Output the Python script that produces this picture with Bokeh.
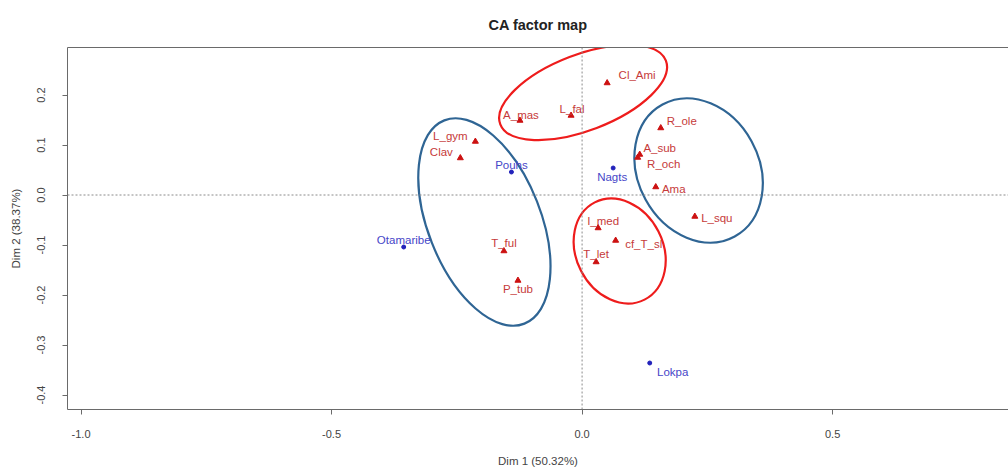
from bokeh.plotting import figure
from bokeh.models import Range1d, FixedTicker, LinearAxis, Span, ColumnDataSource
from bokeh.embed import file_html
from bokeh.resources import INLINE
from bokeh.core.properties import value

# ---- correspondence analysis coordinates ----
# column profiles (taxa)
species = ["Cl_Ami", "A_mas", "L_fal", "R_ole", "L_gym", "Clav", "A_sub", "R_och",
           "Ama", "L_squ", "I_med", "cf_T_sl", "T_let", "T_ful", "P_tub"]
species_dim1 = [0.050, -0.124, -0.022, 0.157, -0.213, -0.243, 0.115, 0.111,
                0.147, 0.225, 0.032, 0.067, 0.028, -0.156, -0.128]
species_dim2 = [0.224, 0.149, 0.159, 0.134, 0.107, 0.074, 0.081, 0.075,
                0.016, -0.043, -0.066, -0.091, -0.134, -0.112, -0.171]

# row profiles (sites)
sites = ["Pouhs", "Nagts", "Otamaribe", "Lokpa"]
site_dim1 = [-0.141, 0.062, -0.356, 0.135]
site_dim2 = [0.046, 0.054, -0.104, -0.336]

# axis ticks
x_ticks = [-1.0, -0.5, 0.0, 0.5]
x_tick_labels = ["-1.0", "-0.5", "0.0", "0.5"]
y_ticks = [-0.4, -0.3, -0.2, -0.1, 0.0, 0.1, 0.2]
y_tick_labels = ["-0.4", "-0.3", "-0.2", "-0.1", "0.0", "0.1", "0.2"]

# group outlines: centre, full width/height, rotation (degrees)
group_x = [0.002, -0.195, 0.2325, 0.075]
group_y = [0.205, -0.054, 0.049, -0.112]
group_w = [0.354, 0.436, 0.300, 0.218]
group_h = [0.152, 0.226, 0.242, 0.174]
group_angle = [21.0, -68.5, -61.3, -62.9]
group_color = ["#ee1c1c", "#2f6594", "#2f6594", "#ee1c1c"]

# ---- label placement (pixel shifts, screen y downwards) ----
label_dx = {"Cl_Ami": 30, "A_mas": 1, "L_fal": 1, "R_ole": 21, "L_gym": -25, "Clav": -19,
            "A_sub": 20, "R_och": 26, "Ama": 18, "L_squ": 22, "I_med": 5, "cf_T_sl": 28,
            "T_let": 0, "T_ful": 0, "P_tub": 0, "Pouhs": 0, "Nagts": -1,
            "Otamaribe": 0, "Lokpa": 23}
label_dy = {"Cl_Ami": -8, "A_mas": -6, "L_fal": -7, "R_ole": -7, "L_gym": -6, "Clav": -6,
            "A_sub": -7, "R_och": 6, "Ama": 2, "L_squ": 1, "I_med": -7, "cf_T_sl": 3,
            "T_let": -8, "T_ful": -8, "P_tub": 8, "Pouhs": -7, "Nagts": 9,
            "Otamaribe": -7, "Lokpa": 9}

FONT = "Liberation Sans"
FRAME = "#6a6a6a"
RED_TXT = "#c63a3a"
RED_PT = "#cc1111"
BLUE_TXT = "#4646c8"
BLUE_PT = "#2222bb"

p = figure(width=1008, height=473,
           x_range=Range1d(-1.027, 0.851), y_range=Range1d(-0.429, 0.295),
           output_backend="svg", toolbar_location=None,
           min_border_left=67, min_border_right=0, min_border_top=47, min_border_bottom=64,
           title="CA factor map")
p.background_fill_color = "white"
p.border_fill_color = "white"
p.outline_line_color = None
p.grid.visible = False

p.title.text_font = FONT
p.title.text_font_size = "14.5px"
p.title.text_font_style = "bold"
p.title.text_color = "#222222"
p.title.align = "center"
p.title.offset = 10
p.title.standoff = 29

for ax in (p.xaxis[0], p.yaxis[0]):
    ax.axis_line_color = FRAME
    ax.major_tick_line_color = FRAME
    ax.minor_tick_line_color = None
    ax.major_tick_in = 0
    ax.major_tick_out = 5
    ax.major_label_text_font = FONT
    ax.major_label_text_font_size = "11px"
    ax.major_label_text_color = "#444444"
    ax.axis_label_text_font = FONT
    ax.axis_label_text_font_size = "11.5px"
    ax.axis_label_text_font_style = "normal"
    ax.axis_label_text_color = "#444444"

p.xaxis.ticker = FixedTicker(ticks=x_ticks)
p.xaxis.major_label_overrides = dict(zip(x_ticks, x_tick_labels))
p.xaxis.axis_label = "Dim 1 (50.32%)"
p.xaxis.major_label_standoff = 15
p.xaxis.axis_label_standoff = 14

p.yaxis.ticker = FixedTicker(ticks=y_ticks)
p.yaxis.major_label_overrides = dict(zip(y_ticks, y_tick_labels))
p.yaxis.major_label_orientation = "vertical"
p.yaxis.axis_label = "Dim 2 (38.37%)"
p.yaxis.major_label_standoff = 18
p.yaxis.axis_label_standoff = 12

# top edge of the box: a bare axis line that takes no extra room
top = LinearAxis(ticker=FixedTicker(ticks=[]), axis_line_color=FRAME,
                 major_tick_line_color=None, minor_tick_line_color=None,
                 major_tick_out=0, major_tick_in=0, minor_tick_out=0, minor_tick_in=0,
                 major_label_standoff=0, axis_label_standoff=0,
                 major_label_text_font_size="0px")
p.add_layout(top, "above")

# origin lines
p.add_layout(Span(location=0, dimension="height", line_color="#8a8a8a",
                  line_dash="2 2", line_width=1))
p.add_layout(Span(location=0, dimension="width", line_color="#8a8a8a",
                  line_dash="2 2", line_width=1))

# group outlines
p.ellipse(x=group_x, y=group_y, width=group_w, height=group_h,
          angle=group_angle, angle_units="deg",
          fill_color=None, line_color=group_color, line_width=2.2)

# taxa
sp_src = ColumnDataSource(dict(
    x=species_dim1, y=species_dim2, name=species,
    dx=[label_dx[s] for s in species], dy=[label_dy[s] for s in species]))
p.scatter("x", "y", source=sp_src, marker="triangle", size=6,
          fill_color=RED_PT, line_color=RED_PT)
p.text("x", "y", text="name", source=sp_src, x_offset="dx", y_offset="dy",
       text_align="center", text_baseline="middle",
       text_font=value(FONT), text_font_size="11.5px", text_color=RED_TXT)

# sites
st_src = ColumnDataSource(dict(
    x=site_dim1, y=site_dim2, name=sites,
    dx=[label_dx[s] for s in sites], dy=[label_dy[s] for s in sites]))
p.scatter("x", "y", source=st_src, marker="circle", size=4,
          fill_color=BLUE_PT, line_color=BLUE_PT)
p.text("x", "y", text="name", source=st_src, x_offset="dx", y_offset="dy",
       text_align="center", text_baseline="middle",
       text_font=value(FONT), text_font_size="11.5px", text_color=BLUE_TXT)

open("out.html", "w").write(file_html(p, INLINE))
